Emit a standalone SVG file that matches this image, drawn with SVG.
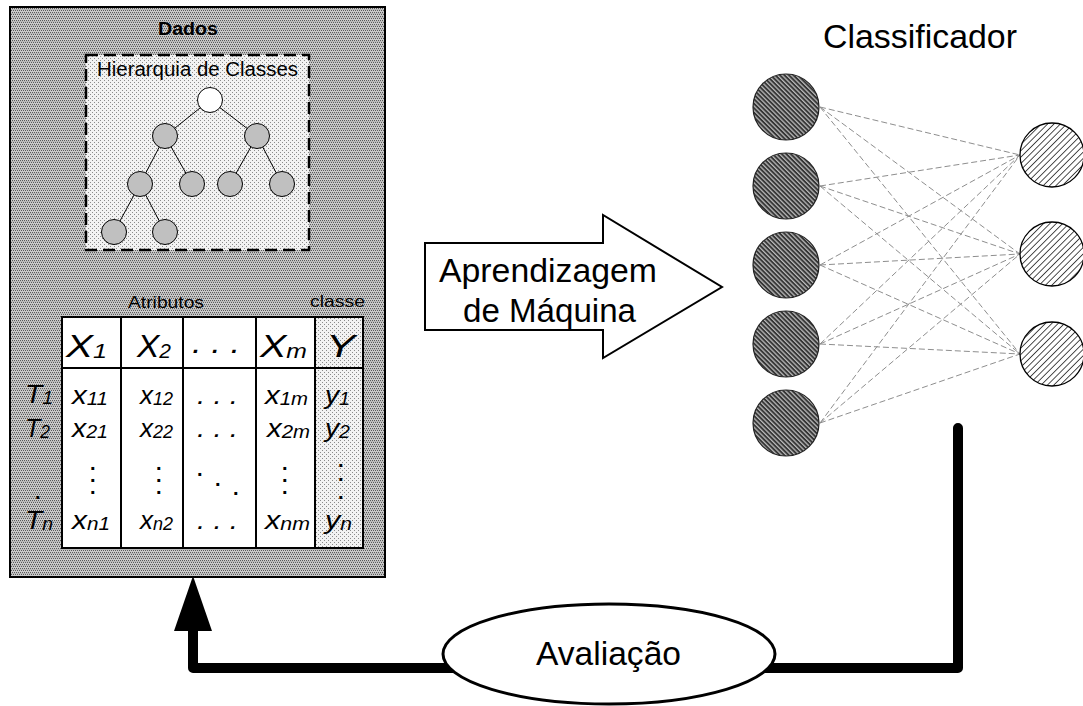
<svg xmlns="http://www.w3.org/2000/svg" width="1083" height="706" viewBox="0 0 1083 706">
<defs>
<pattern id="pDark" width="4" height="4" patternUnits="userSpaceOnUse">
<rect width="4" height="4" fill="#cacaca"/>
<rect x="0" y="0" width="1" height="1" fill="#5a5a5a"/><rect x="2" y="0" width="1" height="1" fill="#5a5a5a"/>
<rect x="1" y="2" width="1" height="1" fill="#5a5a5a"/><rect x="3" y="2" width="1" height="1" fill="#5a5a5a"/>
<rect x="0" y="1" width="4" height="1" fill="#b8b8b8"/>
</pattern>
<pattern id="pLight" width="4" height="4" patternUnits="userSpaceOnUse">
<rect width="4" height="4" fill="#f2f2f2"/>
<rect x="0" y="0" width="1" height="1" fill="#8a8a8a"/><rect x="2" y="2" width="1" height="1" fill="#8a8a8a"/>
</pattern>
<pattern id="hIn" width="3.2" height="3.2" patternUnits="userSpaceOnUse" patternTransform="rotate(-45)">
<rect width="3.2" height="3.2" fill="#353535"/>
<rect x="0" y="0" width="1.3" height="3.2" fill="#b8b8b8"/>
</pattern>
<pattern id="hOut" width="4.5" height="4.5" patternUnits="userSpaceOnUse" patternTransform="rotate(45)">
<rect width="4.5" height="4.5" fill="#fff"/>
<rect x="0" y="0" width="0.8" height="4.5" fill="#222"/>
</pattern>
</defs>
<style>
text{font-family:"Liberation Sans",Arial,sans-serif;fill:#000}
.it{font-style:italic}
.tn{fill:#c0c0c0;stroke:#000;stroke-width:1}
.te{stroke:#000;stroke-width:1}
.grid{stroke:#000;stroke-width:2;fill:none}
.nin{fill:url(#hIn);stroke:#222;stroke-width:1.2}
.nout{fill:url(#hOut);stroke:#000;stroke-width:1.3}
.w{stroke:#8e8e8e;stroke-width:1;stroke-dasharray:6 3;fill:none}
</style>

<g id="dados">
<rect x="10" y="7" width="375" height="570" fill="url(#pDark)" stroke="#000" stroke-width="2"/>
<text x="188" y="35" font-size="18" font-weight="bold" text-anchor="middle" textLength="60" lengthAdjust="spacingAndGlyphs">Dados</text>
</g>

<g id="hierarquia">
<rect x="86" y="55" width="223" height="195" fill="url(#pLight)" stroke="#000" stroke-width="2.5" stroke-dasharray="12 6"/>
<text x="97" y="76" font-size="20" textLength="201" lengthAdjust="spacingAndGlyphs">Hierarquia de Classes</text>
<g id="tree-edges">
<line class="te" x1="210" y1="100" x2="165" y2="136"/>
<line class="te" x1="210" y1="100" x2="257" y2="136"/>
<line class="te" x1="165" y1="136" x2="140" y2="184"/>
<line class="te" x1="165" y1="136" x2="192" y2="184"/>
<line class="te" x1="257" y1="136" x2="230" y2="184"/>
<line class="te" x1="257" y1="136" x2="282" y2="184"/>
<line class="te" x1="140" y1="184" x2="114" y2="232"/>
<line class="te" x1="140" y1="184" x2="165" y2="232"/>
</g>
<circle cx="210" cy="100" r="12.5" fill="#fff" stroke="#000" stroke-width="1"/>
<circle class="tn" cx="165" cy="136" r="12.5"/>
<circle class="tn" cx="257" cy="136" r="12.5"/>
<circle class="tn" cx="140" cy="184" r="12.5"/>
<circle class="tn" cx="192" cy="184" r="12.5"/>
<circle class="tn" cx="230" cy="184" r="12.5"/>
<circle class="tn" cx="282" cy="184" r="12.5"/>
<circle class="tn" cx="114" cy="232" r="12.5"/>
<circle class="tn" cx="165" cy="232" r="12.5"/>
</g>

<g id="tabela">
<text x="128" y="308" font-size="17" textLength="76" lengthAdjust="spacingAndGlyphs">Atributos</text>
<text x="310" y="307" font-size="17" textLength="55" lengthAdjust="spacingAndGlyphs">classe</text>
<rect x="62" y="317" width="253" height="231" fill="#fff"/>
<rect x="315" y="317" width="48" height="231" fill="url(#pLight)"/>
<rect class="grid" x="62" y="317" width="301" height="231"/>
<line class="grid" x1="62" y1="368" x2="363" y2="368"/>
<line class="grid" x1="121" y1="317" x2="121" y2="548"/>
<line class="grid" x1="183" y1="317" x2="183" y2="548"/>
<line class="grid" x1="256" y1="317" x2="256" y2="548"/>
<line class="grid" x1="315" y1="317" x2="315" y2="548"/>

<g class="it" font-size="32">
<text x="66" y="357" textLength="41" lengthAdjust="spacingAndGlyphs">X<tspan font-size="20" dy="1">1</tspan></text>
<text x="137" y="357" textLength="34" lengthAdjust="spacingAndGlyphs">X<tspan font-size="20" dy="1">2</tspan></text>
<text x="192" y="353" textLength="48" lengthAdjust="spacingAndGlyphs">. . .</text>
<text x="260" y="357" textLength="47" lengthAdjust="spacingAndGlyphs">X<tspan font-size="20" dy="1">m</tspan></text>
<text x="326" y="357" textLength="29" lengthAdjust="spacingAndGlyphs">Y</text>
</g>

<g class="it" font-size="26">
<text x="25" y="403" textLength="28" lengthAdjust="spacingAndGlyphs">T<tspan font-size="18" dy="1">1</tspan></text>
<text x="72" y="404" textLength="36" lengthAdjust="spacingAndGlyphs">x<tspan font-size="18" dy="1">11</tspan></text>
<text x="140" y="404" textLength="33" lengthAdjust="spacingAndGlyphs">x<tspan font-size="18" dy="1">12</tspan></text>
<text x="197" y="404" textLength="41" lengthAdjust="spacingAndGlyphs">. . .</text>
<text x="265" y="404" textLength="43" lengthAdjust="spacingAndGlyphs">x<tspan font-size="18" dy="1">1m</tspan></text>
<text x="325" y="404" textLength="25" lengthAdjust="spacingAndGlyphs">y<tspan font-size="18" dy="1">1</tspan></text>

<text x="25" y="437" textLength="25" lengthAdjust="spacingAndGlyphs">T<tspan font-size="18" dy="1">2</tspan></text>
<text x="72" y="437" textLength="36" lengthAdjust="spacingAndGlyphs">x<tspan font-size="18" dy="1">21</tspan></text>
<text x="140" y="437" textLength="33" lengthAdjust="spacingAndGlyphs">x<tspan font-size="18" dy="1">22</tspan></text>
<text x="197" y="437" textLength="41" lengthAdjust="spacingAndGlyphs">. . .</text>
<text x="267" y="437" textLength="43" lengthAdjust="spacingAndGlyphs">x<tspan font-size="18" dy="1">2m</tspan></text>
<text x="325" y="437" textLength="25" lengthAdjust="spacingAndGlyphs">y<tspan font-size="18" dy="1">2</tspan></text>

<text x="25" y="529" textLength="28" lengthAdjust="spacingAndGlyphs">T<tspan font-size="18" dy="1">n</tspan></text>
<text x="72" y="529" textLength="38" lengthAdjust="spacingAndGlyphs">x<tspan font-size="18" dy="1">n1</tspan></text>
<text x="140" y="529" textLength="33" lengthAdjust="spacingAndGlyphs">x<tspan font-size="18" dy="1">n2</tspan></text>
<text x="197" y="529" textLength="41" lengthAdjust="spacingAndGlyphs">. . .</text>
<text x="265" y="529" textLength="45" lengthAdjust="spacingAndGlyphs">x<tspan font-size="18" dy="1">nm</tspan></text>
<text x="325" y="529" textLength="27" lengthAdjust="spacingAndGlyphs">y<tspan font-size="18" dy="1">n</tspan></text>
</g>
<g font-size="20" font-weight="bold">
<text x="90 90 90" y="470 482 494">...</text>
<text x="156 156 156" y="470 482 494">...</text>
<text x="197 215 233" y="476 486 495">...</text>
<text x="282 282 282" y="470 482 494">...</text>
<text x="338 338 338" y="467 481 499">...</text>
<text x="35" y="499">.</text>
</g>
</g>

<g id="aprendizagem">
<polygon points="425,243 603,243 603,215 722,287 603,358 603,330 425,330" fill="#fff" stroke="#000" stroke-width="2"/>
<text x="439" y="282" font-size="33" textLength="218" lengthAdjust="spacingAndGlyphs">Aprendizagem</text>
<text x="463" y="322" font-size="33" textLength="173" lengthAdjust="spacingAndGlyphs">de Máquina</text>
</g>

<g id="classificador">
<text x="823" y="48" font-size="33" textLength="194" lengthAdjust="spacingAndGlyphs">Classificador</text>
<g id="ligacoes">
<path class="w" d="M820,107 L1020,155 M820,107 L1020,254 M820,107 L1020,354
M820,186 L1020,155 M820,186 L1020,254 M820,186 L1020,354
M820,265 L1020,155 M820,265 L1020,254 M820,265 L1020,354
M820,344 L1020,155 M820,344 L1020,254 M820,344 L1020,354
M820,423 L1020,155 M820,423 L1020,254 M820,423 L1020,354"/>
</g>
<circle id="in1" class="nin" cx="786" cy="107" r="33"/>
<circle id="in2" class="nin" cx="786" cy="186" r="33"/>
<circle id="in3" class="nin" cx="786" cy="265" r="33"/>
<circle id="in4" class="nin" cx="786" cy="344" r="33"/>
<circle id="in5" class="nin" cx="786" cy="423" r="33"/>
<circle id="out1" class="nout" cx="1052" cy="155" r="32"/>
<circle id="out2" class="nout" cx="1052" cy="254" r="32"/>
<circle id="out3" class="nout" cx="1052" cy="354" r="32"/>
</g>

<g id="connectors">
<path d="M958,428 L958,668 L193,668 L193,628" fill="none" stroke="#000" stroke-width="10" stroke-linecap="round" stroke-linejoin="round"/>
<polygon points="193,576 174,631 212,631" fill="#000"/>
</g>

<g id="avaliacao">
<ellipse cx="609" cy="654" rx="166" ry="50" fill="#fff" stroke="#000" stroke-width="3"/>
<text x="536" y="665" font-size="34" textLength="145" lengthAdjust="spacingAndGlyphs">Avaliação</text>
</g>
</svg>
